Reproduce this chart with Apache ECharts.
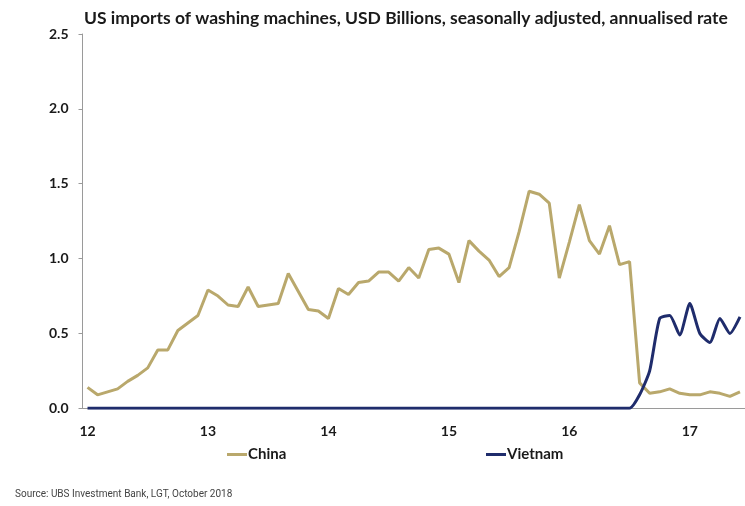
<!DOCTYPE html>
<html>
<head>
<meta charset="utf-8">
<script src="https://cdn.jsdelivr.net/npm/echarts@6/dist/echarts.min.js"></script>
<style>
	html, body { margin: 0; padding: 0; background: #fff; }
	#chart { width: 745px; height: 506px; }
</style>
</head>
<body>
<div id="chart"></div>
<script>
// monthly data, Jan 2012 .. Jun 2017
const years = ["12", "13", "14", "15", "16", "17"]
const months = ["01", "02", "03", "04", "05", "06", "07", "08", "09", "10", "11", "12"]
const categories = []
years.forEach(y => months.forEach(m => categories.push(`${y}-${m}`)))
categories.length = 66

const china = [
	0.14, 0.09, 0.11, 0.13, 0.18, 0.22, 0.27, 0.39, 0.39, 0.52, 0.57, 0.62,
	0.79, 0.75, 0.69, 0.68, 0.81, 0.68, 0.69, 0.70, 0.90, 0.78, 0.66, 0.65,
	0.60, 0.80, 0.76, 0.84, 0.85, 0.91, 0.91, 0.85, 0.94, 0.87, 1.06, 1.07,
	1.03, 0.84, 1.12, 1.05, 0.99, 0.88, 0.94, 1.18, 1.45, 1.43, 1.37, 0.87,
	1.11, 1.36, 1.12, 1.03, 1.22, 0.96, 0.98, 0.17, 0.10, 0.11, 0.13, 0.10,
	0.09, 0.09, 0.11, 0.10, 0.08, 0.11,
]
const vietnam = [
	0, 0, 0, 0, 0, 0, 0, 0, 0, 0, 0, 0,
	0, 0, 0, 0, 0, 0, 0, 0, 0, 0, 0, 0,
	0, 0, 0, 0, 0, 0, 0, 0, 0, 0, 0, 0,
	0, 0, 0, 0, 0, 0, 0, 0, 0, 0, 0, 0,
	0, 0, 0, 0, 0, 0, 0, 0.09, 0.25, 0.60, 0.62, 0.49,
	0.70, 0.50, 0.44, 0.60, 0.50, 0.61,
]
const yTicks = [0, 0.5, 1.0, 1.5, 2.0, 2.5]

const chinaColor = "#B9A86C"
const vietnamColor = "#1F2C6C"
const textColor = "#1a1a1a"
const font = "Lato"

const chart = echarts.init(document.getElementById("chart"))
chart.setOption({
	animation: false,
	title: [
		{
			text: "US imports of washing machines, USD Billions, seasonally adjusted, annualised rate",
			left: 79,
			top: 4,
			textStyle: { fontFamily: font, fontSize: 17.5, fontWeight: "bold", color: textColor },
		},
		{
			text: "Source: UBS Investment Bank, LGT, October 2018",
			left: 10,
			top: 484,
			textStyle: { fontFamily: "Liberation Sans Narrow, Roboto", fontSize: 10, fontWeight: "normal", color: "#444" },
		},
	],
	grid: {
		left: 82.5,
		right: -4.1,
		top: 34,
		bottom: 97.7,
	},
	legend: [
		{
			data: ["China"],
			left: 222,
			top: 442,
			icon: "rect",
			itemWidth: 20,
			itemHeight: 3,
			itemGap: 0,
			textStyle: { fontFamily: font, fontSize: 15, fontWeight: "bold", color: textColor, padding: [0, 0, 0, -4] },
		},
		{
			data: ["Vietnam"],
			left: 481,
			top: 442,
			icon: "rect",
			itemWidth: 20,
			itemHeight: 3,
			itemGap: 0,
			textStyle: { fontFamily: font, fontSize: 15, fontWeight: "bold", color: textColor, padding: [0, 0, 0, -4] },
		},
	],
	xAxis: {
		type: "category",
		data: categories,
		boundaryGap: true,
		axisLine: { lineStyle: { color: "#9a9a9a", width: 1 } },
		axisTick: { interval: 0, length: 4, lineStyle: { color: "#9a9a9a" } },
		axisLabel: {
			interval: idx => idx % 12 === 0,
			formatter: v => v.slice(0, 2),
			margin: 16,
			fontFamily: font,
			fontSize: 14,
			fontWeight: "bold",
			color: textColor,
		},
		splitLine: { show: false },
	},
	yAxis: {
		type: "value",
		min: yTicks[0],
		max: yTicks[yTicks.length - 1],
		interval: 0.5,
		axisLine: { show: true, lineStyle: { color: "#9a9a9a", width: 1 } },
		axisTick: { show: true, length: 4, lineStyle: { color: "#9a9a9a" } },
		axisLabel: {
			formatter: v => v.toFixed(1),
			margin: 14,
			fontFamily: font,
			fontSize: 14,
			fontWeight: "bold",
			color: textColor,
		},
		splitLine: { show: false },
	},
	series: [
		{
			name: "China",
			type: "line",
			data: china,
			symbol: "none",
			lineStyle: { color: chinaColor, width: 3 },
			itemStyle: { color: chinaColor },
			z: 2,
		},
		{
			name: "Vietnam",
			type: "line",
			data: vietnam,
			symbol: "none",
			smooth: 0.2,
			lineStyle: { color: vietnamColor, width: 3 },
			itemStyle: { color: vietnamColor },
			z: 3,
		},
	],
})
</script>
</body>
</html>
